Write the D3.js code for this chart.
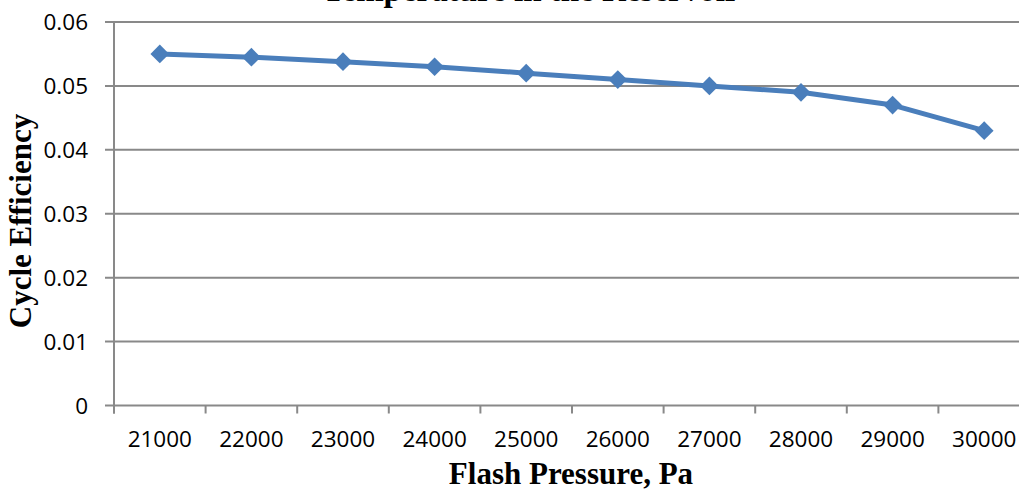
<!DOCTYPE html>
<html>
<head>
<meta charset="utf-8">
<script src="https://cdn.jsdelivr.net/npm/d3@7"></script>
<style>
  html, body { margin: 0; padding: 0; background: #fff; }
  svg { display: block; }
</style>
</head>
<body>
<div id="chart"></div>
<script>
const categories = ["21000","22000","23000","24000","25000","26000","27000","28000","29000","30000"];
const efficiency = [0.055, 0.0545, 0.0538, 0.053, 0.052, 0.051, 0.050, 0.049, 0.047, 0.043];
const yTicks = [0, 0.01, 0.02, 0.03, 0.04, 0.05, 0.06];
const titleText = "Temperature in the Reservoir";
const xTitle = "Flash Pressure, Pa";
const yTitle = "Cycle Efficiency";

const W = 1019, H = 490;
const svg = d3.select("#chart").append("svg").attr("width", W).attr("height", H);
svg.append("rect").attr("width", W).attr("height", H).attr("fill", "#fff");

const x = d3.scaleBand().domain(categories).range([114, 1030]);
const y = d3.scaleLinear().domain([0, 0.06]).range([405.5, 22]);
const gridColor = "#898989";
const sans = "'Open Sans', sans-serif";
const serif = "'Liberation Serif', 'Times New Roman', serif";

// gridlines
svg.append("g").selectAll("line").data(yTicks).join("line")
  .attr("x1", 105).attr("x2", 1030)
  .attr("y1", d => y(d)).attr("y2", d => y(d))
  .attr("stroke", gridColor).attr("stroke-width", 2);

// y axis line
svg.append("line").attr("x1", 114).attr("x2", 114)
  .attr("y1", y(0.06)).attr("y2", y(0) + 8)
  .attr("stroke", gridColor).attr("stroke-width", 2);

// x ticks at band boundaries
const bounds = categories.map(c => x(c)).concat([x.range()[1]]);
svg.append("g").selectAll("line").data(bounds).join("line")
  .attr("x1", d => d).attr("x2", d => d)
  .attr("y1", y(0)).attr("y2", y(0) + 8)
  .attr("stroke", gridColor).attr("stroke-width", 2);

// y tick labels
svg.append("g").selectAll("text").data(yTicks).join("text")
  .attr("x", 88).attr("y", d => y(d) + 8)
  .attr("text-anchor", "end")
  .attr("font-family", sans).attr("font-size", 22.5).attr("fill", "#000")
  .text(d => d === 0 ? "0" : d3.format(".2f")(d));

// x tick labels
svg.append("g").selectAll("text").data(categories).join("text")
  .attr("x", d => x(d) + x.bandwidth() / 2).attr("y", 447)
  .attr("text-anchor", "middle")
  .attr("font-family", sans).attr("font-size", 22.5).attr("fill", "#000")
  .text(d => d);

// line
const lineGen = d3.line()
  .x((d, i) => x(categories[i]) + x.bandwidth() / 2)
  .y(d => y(d));
svg.append("path").datum(efficiency)
  .attr("d", lineGen)
  .attr("fill", "none").attr("stroke", "#4a7ebb").attr("stroke-width", 5)
  .attr("stroke-linejoin", "round");

// diamond markers
const sym = d3.symbol().type(d3.symbolSquare).size(175);
svg.append("g").selectAll("path").data(efficiency).join("path")
  .attr("d", sym)
  .attr("transform", (d, i) => `translate(${x(categories[i]) + x.bandwidth() / 2},${y(d)}) rotate(45)`)
  .attr("fill", "#4a7ebb");

// titles
svg.append("text").attr("x", 531).attr("y", 0.5)
  .attr("text-anchor", "middle")
  .attr("font-family", serif).attr("font-weight", "bold").attr("font-size", 33)
  .attr("fill", "#000").text(titleText);

svg.append("text").attr("x", 571).attr("y", 484)
  .attr("text-anchor", "middle")
  .attr("font-family", serif).attr("font-weight", "bold").attr("font-size", 31)
  .attr("fill", "#000").text(xTitle);

svg.append("text")
  .attr("transform", "translate(31,221) rotate(-90)")
  .attr("text-anchor", "middle")
  .attr("font-family", serif).attr("font-weight", "bold").attr("font-size", 31)
  .attr("fill", "#000").text(yTitle);
</script>
</body>
</html>
